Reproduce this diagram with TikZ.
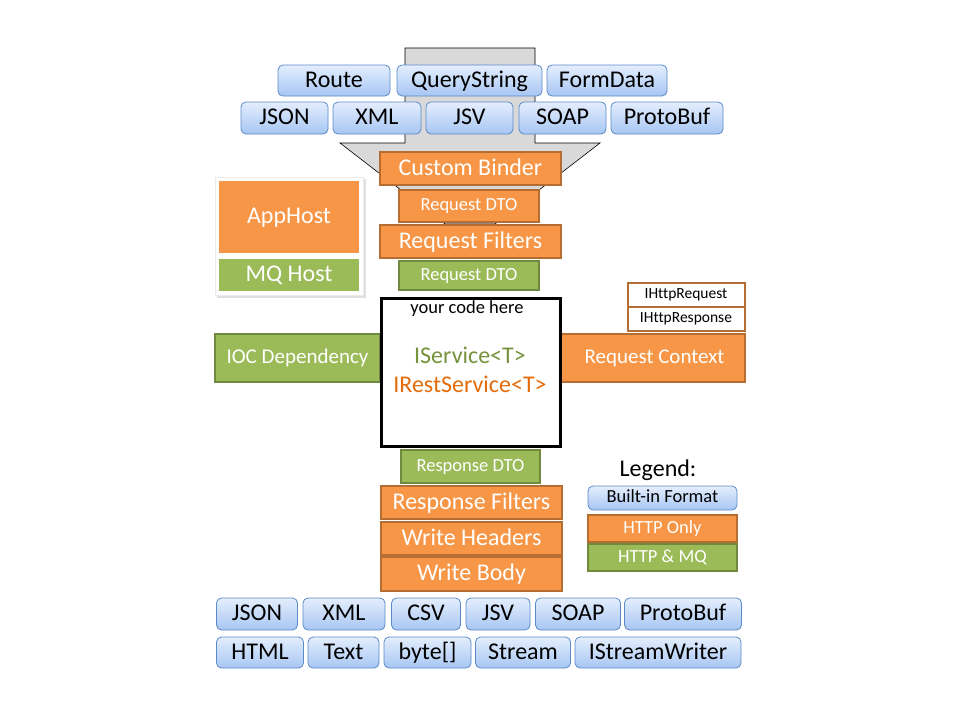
\documentclass[tikz,border=0pt]{standalone}
\usepackage{fontspec}
\setmainfont{Carlito}[Ligatures=NoCommon]
\definecolor{orangefill}{HTML}{F79646}
\definecolor{orangeline}{HTML}{B66D31}
\definecolor{greenfill}{HTML}{9BBB59}
\definecolor{greenline}{HTML}{71893F}
\definecolor{bluetop}{HTML}{E4EEFD}
\definecolor{bluebottom}{HTML}{A7C6F3}
\definecolor{blueline}{HTML}{5B8AC8}
\definecolor{servicegreen}{HTML}{77933C}
\definecolor{serviceorange}{HTML}{E46C0A}
\newcommand{\bigtext}{\fontsize{24}{24}\selectfont}
\newcommand{\midtext}{\fontsize{21}{21}\selectfont}
\newcommand{\smalltext}{\fontsize{18.5}{18.5}\selectfont}
\newcommand{\tinytext}{\fontsize{15.5}{15.5}\selectfont}

\begin{document}
\begin{tikzpicture}[x=1pt,y=-1pt]
  \tikzstyle{every node}=[inner sep=0pt,minimum height=32pt]
  \tikzstyle{bigfont}=[font=\bigtext,text height=17.5pt,text depth=4pt]
  \tikzstyle{midfont}=[font=\midtext,text height=15pt,text depth=3.8pt]
  \tikzstyle{smallfont}=[font=\smalltext,text height=12.5pt,text depth=3.5pt]
  \tikzstyle{tinyfont}=[font=\tinytext,text height=10.5pt,text depth=3.3pt]
  \tikzstyle{format}=[rounded corners=5pt,top color=bluetop,
    bottom color=bluebottom,draw=blueline,line width=0.8pt,bigfont]
  \tikzstyle{http}=[fill=orangefill,draw=orangeline,line width=2pt,
    text=white,bigfont]
  \tikzstyle{mq}=[fill=greenfill,draw=greenline,line width=2pt,
    text=white,bigfont]
  \useasboundingbox[fill=white] (0,0) rectangle (960,720);
  % funnel
  \draw[fill=black!15,line width=0.6pt] (405,48) -- (535,48) -- (535,143)
    -- (600,143) -- (495,224) -- (445,224) -- (340,143) -- (405,143) -- cycle;
  % request formats
  \node[format,minimum width=112pt,minimum height=31pt] (route) at (334,80.5) {Route};
  \node[format,minimum width=145pt,minimum height=31pt] (query) at (469.5,80.5) {QueryString};
  \node[format,minimum width=120pt,minimum height=31pt] (form) at (607,80.5) {FormData};
  \node[format,minimum width=87pt] (json) at (284.5,118) {JSON};
  \node[format,minimum width=88pt] (xml) at (377,118) {XML};
  \node[format,minimum width=87pt] (jsv) at (469.5,118) {JSV};
  \node[format,minimum width=87pt] (soap) at (562.5,118) {SOAP};
  \node[format,minimum width=112pt] (proto) at (667,118) {ProtoBuf};
  % request pipeline
  \node[http,minimum width=181pt,minimum height=33pt] (binder) at (470.5,168.5) {Custom Binder};
  \node[http,minimum width=140pt,smallfont] (reqdto) at (469,206) {Request DTO};
  \node[http,minimum width=181pt,minimum height=33pt] (reqfilters) at (470.5,241.5) {Request Filters};
  \node[mq,minimum width=140pt,minimum height=29pt,smallfont] (mqdto) at (469,275.5) {Request DTO};
  % hosts
  \fill[black!12] (217,179) rectangle (366,298);
  \node[fill=white,draw=black!8,minimum width=148pt,minimum height=118pt] (card) at (289,236) {};
  \node[http,draw=none,minimum width=140pt,minimum height=72pt] (apphost) at (289,217) {AppHost};
  \node[mq,draw=none,minimum width=140pt] (mqhost) at (289,275) {MQ Host};
  % service
  \node[mq,minimum width=165pt,minimum height=48pt,midfont] (ioc) at (297.5,358) {IOC Dependency};
  \node[http,minimum width=185pt,minimum height=48pt,midfont] (context) at (652.5,358) {\hspace{4pt}Request Context};
  \node[http,fill=white,text=black,minimum width=117pt,minimum height=24pt,tinyfont] (httpreq) at (686,294.5) {IHttpRequest};
  \node[http,fill=white,text=black,minimum width=117pt,minimum height=24pt,tinyfont] (httpres) at (686,319) {IHttpResponse};
  \node[fill=white,draw=black,line width=3pt,minimum width=179pt,minimum height=148pt] (service) at (470.5,372) {};
  \node[smallfont,minimum height=0pt] (code) at (467,309) {your code here};
  \node[bigfont,text=servicegreen,minimum height=0pt] (iservice) at (470,357) {IService<T>};
  \node[bigfont,text=serviceorange,minimum height=0pt] (irest) at (470,386) {IRestService<T>};
  % response pipeline
  \node[mq,minimum width=139pt,minimum height=33pt,smallfont] (resdto) at (470.5,466.5) {Response DTO};
  \node[http,minimum width=181pt,minimum height=33pt] (resfilters) at (471.5,502.5) {Response Filters};
  \node[http,minimum width=181pt,minimum height=33pt] (headers) at (471.5,538.5) {Write Headers};
  \node[http,minimum width=181pt,minimum height=34pt] (body) at (471.5,574) {Write Body};
  % legend
  \node[bigfont,minimum height=0pt] (legend) at (658,470) {Legend:};
  \node[format,minimum width=149pt,minimum height=24pt,smallfont] (builtin) at (662.5,498) {Built-in Format};
  \node[http,minimum width=149pt,minimum height=27pt,smallfont] (httponly) at (662.5,528.5) {HTTP Only};
  \node[mq,minimum width=149pt,minimum height=27pt,smallfont] (httpmq) at (662.5,557.5) {HTTP \& MQ};
  % response formats
  \node[format,minimum width=81pt] (rjson) at (257,614) {JSON};
  \node[format,minimum width=82pt] (rxml) at (344,614) {XML};
  \node[format,minimum width=69pt] (rcsv) at (426,614) {CSV};
  \node[format,minimum width=64pt] (rjsv) at (498,614) {JSV};
  \node[format,minimum width=85pt] (rsoap) at (578,614) {SOAP};
  \node[format,minimum width=117pt] (rproto) at (683,614) {ProtoBuf};
  \node[format,minimum width=87pt,minimum height=31pt] (rhtml) at (260,652.5) {HTML};
  \node[format,minimum width=71pt,minimum height=31pt] (rtext) at (343.5,652.5) {Text};
  \node[format,minimum width=87pt,minimum height=31pt] (rbytes) at (427.5,652.5) {byte[]};
  \node[format,minimum width=95pt,minimum height=31pt] (rstream) at (523,652.5) {Stream};
  \node[format,minimum width=166pt,minimum height=31pt] (rwriter) at (658,652.5) {IStreamWriter};
\end{tikzpicture}
\end{document}
